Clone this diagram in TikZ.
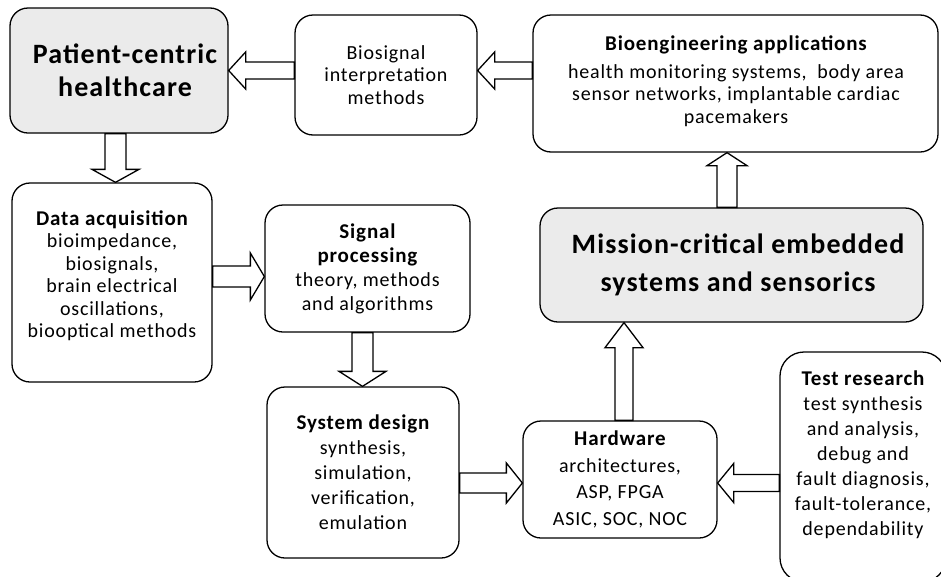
\documentclass[tikz,border=0pt]{standalone}
\usepackage{fontspec}
\setmainfont{Carlito}[LetterSpace=4]
\usetikzlibrary{calc}
\tikzset{
  box/.style={draw, line width=1.3pt, rounded corners=18pt, fill=white, align=center, inner sep=0pt,
    font=\fontsize{20}{22.5}\selectfont},
  graybox/.style={box, fill=black!8},
  txt/.style={align=center, inner sep=0pt, font=\fontsize{20}{22.5}\selectfont},
  barrow/.style={draw, line width=1.3pt, fill=white, line join=miter, rounded corners=0pt},
}
\newcommand\barr[5]{%
  \path (#1) coordinate (s0) (#2) coordinate (t0) ($(t0)!#5!(s0)$) coordinate (b0);
  \draw[barrow] ($(s0)!#3!90:(t0)$) -- ($(b0)!#3!-90:(s0)$) -- ($(b0)!#4!-90:(s0)$) -- (t0)
    -- ($(b0)!#4!90:(s0)$) -- ($(b0)!#3!90:(s0)$) -- ($(s0)!#3!-90:(t0)$) -- cycle;
}
\newcommand\ttl[1]{{\fontsize{21}{22}\selectfont\bfseries #1}}
\begin{document}
\begin{tikzpicture}[x=1pt,y=-1pt]
\useasboundingbox (0,0) rectangle (941,576);
\clip (0,0) rectangle (941,576);
% boxes
\node[graybox, minimum width=218pt, minimum height=125pt] (pc) at (119,70.5) {};
\node[txt, font=\fontsize{28}{33}\selectfont\bfseries] (pct) at (125,70.5) {Patient-centric\\healthcare};
\node[box, minimum width=182pt, minimum height=120pt] (bs) at (386,75) {Biosignal\\interpretation\\methods};
\node[box, minimum width=405pt, minimum height=137pt] (be) at (735.5,83.5) {};
\node[txt] (bet) at (736,81)
  {\ttl{Bioengineering applications}\\[5pt]health monitoring systems,~ body area\\sensor networks, implantable cardiac\\pacemakers};
\node[box, minimum width=200pt, minimum height=199pt] (da) at (112,282.5) {};
\node[txt] (dat) at (112,275.5)
  {\ttl{Data acquisition}\\bioimpedance,\\biosignals,\\brain electrical\\oscillations,\\biooptical methods};
\node[box, minimum width=205pt, minimum height=127pt, font=\fontsize{20}{24}\selectfont] (sp) at (367.5,268.5)
  {\ttl{Signal}\\\ttl{processing}\\theory, methods\\and algorithms};
\node[box, minimum width=192pt, minimum height=171pt, font=\fontsize{20}{25}\selectfont] (sd) at (363,472.5)
  {\ttl{System design}\\synthesis,\\simulation,\\verification,\\emulation};
\node[box, minimum width=194pt, minimum height=117pt, font=\fontsize{20}{26.5}\selectfont] (hw) at (620,479.5)
  {\ttl{Hardware}\\architectures,\\ASP, FPGA\\ASIC, SOC, NOC};
\node[graybox, minimum width=383pt, minimum height=114pt] (mc) at (731.5,265) {};
\node[txt, font=\fontsize{28}{38}\selectfont\bfseries] (mct) at (738,265)
  {Mission-critical embedded\\systems and sensorics};
\node[box, minimum width=166pt, minimum height=230pt, rounded corners=24pt] (tr) at (863,467) {};
\node[txt, font=\fontsize{20}{25}\selectfont] (trt) at (863,455)
  {\ttl{Test research}\\test synthesis\\and analysis,\\debug and\\fault diagnosis,\\fault-tolerance,\\dependability};
% arrow helper coordinates
\coordinate (a1) at (0,70.5);
\coordinate (a3) at (727,0);
\coordinate (a4) at (624,0);
\coordinate (a5) at (0,483);
\coordinate (a7) at (362.5,0);
\coordinate (a8) at (0,276.5);
\coordinate (a9) at (115.5,0);
% block arrows
\barr{bs.west |- a1}{pc.east |- a1}{8.5pt}{18.5pt}{17pt}
\barr{be.west |- a1}{bs.east |- a1}{8.5pt}{18.5pt}{17pt}
\barr{mc.north -| a3}{be.south -| a3}{10pt}{20pt}{13pt}
\barr{hw.north -| a4}{mc.south -| a4}{9pt}{19pt}{25pt}
\barr{tr.west |- a5}{hw.east |- a5}{8.5pt}{19.5pt}{16pt}
\barr{sd.east |- a5}{hw.west |- a5}{10pt}{20pt}{16pt}
\barr{sp.south -| a7}{sd.north -| a7}{10.5pt}{23.5pt}{15pt}
\barr{da.east |- a8}{sp.west |- a8}{10.5pt}{23.5pt}{14pt}
\barr{pc.south -| a9}{da.north -| a9}{10.5pt}{23.5pt}{13pt}
\end{tikzpicture}
\end{document}
